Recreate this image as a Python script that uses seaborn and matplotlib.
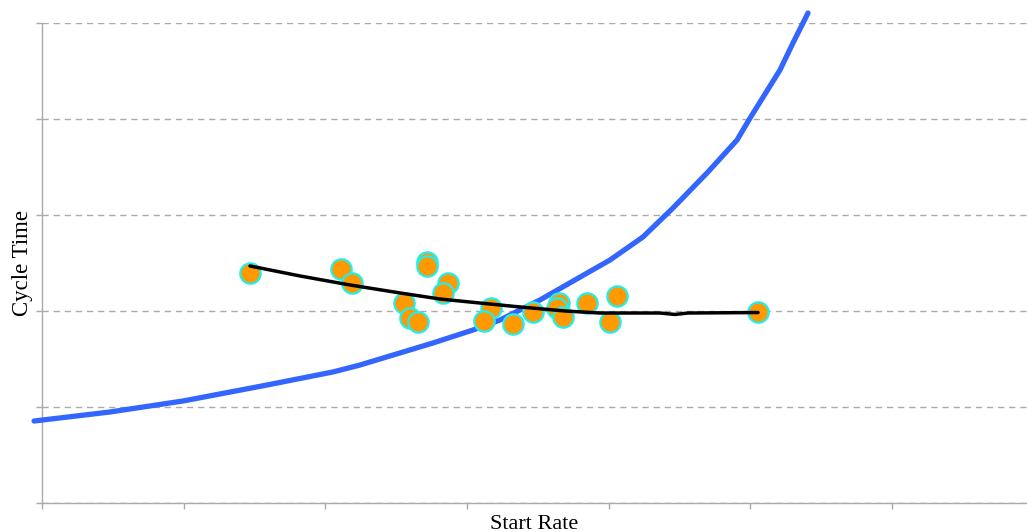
import matplotlib
matplotlib.use("Agg")
import matplotlib.pyplot as plt
import seaborn as sns
import numpy as np
import pandas as pd

# Observed points (start rate, cycle time)
obs_x = [1.468, 2.111, 2.188, 2.718, 2.718, 2.866, 2.831, 2.555, 2.598, 2.654,
         3.169, 3.120, 3.325, 3.466, 3.649, 3.635, 3.678, 3.847, 4.059, 4.009, 5.054]
obs_y = [2.396, 2.438, 2.292, 2.510, 2.469, 2.292, 2.188, 2.083, 1.927, 1.885,
         2.031, 1.896, 1.865, 1.990, 2.083, 2.031, 1.938, 2.083, 2.156, 1.885, 1.990]

# Smoothed trend line
trend_x = [1.468, 1.821, 2.174, 2.527, 2.809, 3.092, 3.374, 3.692, 3.939, 4.362, 4.468, 4.560, 5.054]
trend_y = [2.469, 2.365, 2.271, 2.188, 2.125, 2.083, 2.042, 2.000, 1.979, 1.979, 1.964, 1.979, 1.984]

# Theoretical curve
curve_x = [-0.056, 0.480, 0.995, 1.588, 2.054, 2.245, 2.760, 3.042, 3.233, 3.515,
           4.009, 4.242, 4.454, 4.694, 4.906, 4.998, 5.209, 5.301, 5.407]
curve_y = [0.854, 0.948, 1.0625, 1.229, 1.365, 1.4375, 1.667, 1.802, 1.906, 2.115,
           2.531, 2.771, 3.073, 3.4375, 3.781, 4.010, 4.510, 4.792, 5.104]

x_ticks = [0, 1, 2, 3, 4, 5, 6]
y_ticks = [0, 1, 2, 3, 4, 5]

sns.set_theme(style="white")
plt.rcParams['font.family'] = ['Liberation Serif', 'DejaVu Serif']

fig = plt.figure(figsize=(10.27, 5.32), dpi=100)
W, H = 1027, 532
ax = fig.add_axes([42 / W, (H - 503) / H, 985 / W, 480 / H])

grid_c = '#aaaaaa'
curve_df = pd.DataFrame({'x': curve_x, 'y': curve_y})
trend_df = pd.DataFrame({'x': trend_x, 'y': trend_y})
obs_df = pd.DataFrame({'x': obs_x, 'y': obs_y})

sns.lineplot(data=curve_df, x='x', y='y', ax=ax, color='#3366ff', lw=3.8,
             sort=False, estimator=None, clip_on=False, zorder=3)
sns.scatterplot(data=obs_df, x='x', y='y', ax=ax, color='#ff9900', edgecolor='#22eeee',
                linewidth=1.6, s=215, zorder=4)
sns.lineplot(data=trend_df, x='x', y='y', ax=ax, color='black', lw=2.5,
             sort=False, estimator=None, zorder=5)

ax.set_xlim(0, 985 / 141.67)
ax.set_ylim(0, 5)
ax.set_xticks(x_ticks)
ax.set_yticks(y_ticks)
ax.set_xticklabels([])
ax.set_yticklabels([])
ax.tick_params(axis='both', which='both', direction='out', length=4.3, width=1,
               color=grid_c, bottom=True, left=True)
ax.yaxis.grid(True, color=grid_c, linestyle=(0, (4.5, 3.5)), linewidth=1)
ax.xaxis.grid(False)
for s in ['top', 'right']:
    ax.spines[s].set_visible(False)
for s in ['left', 'bottom']:
    ax.spines[s].set_color(grid_c)
    ax.spines[s].set_linewidth(1)

ax.set_xlabel('Start Rate', fontsize=16, color='black')
ax.set_ylabel('Cycle Time', fontsize=16.5, color='black')
ax.xaxis.set_label_coords(0.5, -(515 - 503) / 480)
ax.yaxis.set_label_coords(-(42 - 33) / 985, 0.5)

fig.savefig('out.png', dpi=100)
